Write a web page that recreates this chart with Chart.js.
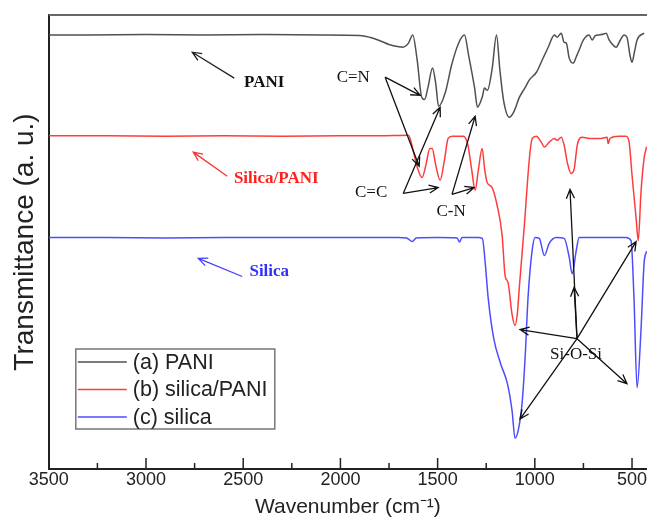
<!DOCTYPE html>
<html>
<head>
<meta charset="utf-8">
<script src="https://cdn.jsdelivr.net/npm/chart.js@4.4.0/dist/chart.umd.min.js"></script>
<style>
  html, body { margin: 0; padding: 0; background: #fff; }
</style>
</head>
<body>
<canvas id="ftir" width="647" height="518"></canvas>
<script>
// series names
const seriesNames = ['(a) PANI', '(b) silica/PANI', '(c) silica'];

// wavenumber ticks (cm-1)
const xTicks = [3500, 3000, 2500, 2000, 1500, 1000, 500];

// (a) PANI, transmittance in arbitrary units
const paniWave = [3500, 3300, 3000, 2700, 2400, 2100, 1900, 1850, 1800, 1750, 1700, 1679, 1650, 1628, 1605,
  1582, 1567, 1550, 1526, 1510, 1495, 1460, 1428, 1390, 1362, 1340, 1310, 1295, 1270, 1259, 1244, 1220,
  1197, 1180, 1160, 1131, 1110, 1079, 1050, 1028, 990, 962, 930, 900, 885, 864, 850, 838, 823, 803, 785,
  772, 750, 721, 705, 690, 669, 645, 633, 618, 600, 582, 560, 541, 526, 510, 500, 487, 474, 438];
const paniT = [95.6, 95.6, 95.7, 95.6, 95.7, 95.6, 95.5, 95.1, 94.4, 93.5, 93.0, 92.9, 93.8, 95.6, 90.0,
  81.9, 81.4, 84.0, 88.3, 85.0, 79.9, 83.0, 89.0, 94.0, 95.6, 91.0, 84.0, 79.7, 82.0, 83.9, 83.4, 88.0,
  95.6, 88.0, 81.0, 77.5, 78.5, 81.9, 84.0, 85.7, 87.5, 90.1, 93.0, 95.6, 95.1, 96.0, 94.0, 93.8, 90.5, 89.4, 91.0,
  92.3, 94.5, 95.6, 94.5, 95.4, 95.6, 95.8, 96.0, 94.5, 93.5, 92.9, 94.5, 95.6, 95.1, 91.0, 89.6, 92.0, 94.5, 96.0];

// (b) silica/PANI
const silicaPaniWave = [3500, 3200, 2900, 2600, 2300, 2000, 1800, 1650, 1625, 1605, 1580, 1560, 1540, 1528,
  1510, 1487, 1465, 1446, 1425, 1368, 1345, 1325, 1307, 1290, 1271, 1258, 1245, 1220, 1194, 1168, 1153,
  1138, 1117, 1102, 1090, 1079, 1054, 1028, 1013, 992, 967, 951, 926, 900, 885, 864, 849, 833, 813, 797,
  782, 756, 721, 659, 628, 623, 613, 567, 531, 515, 500, 479, 468, 454, 438, 425];
const silicaPaniT = [73.4, 73.4, 73.3, 73.4, 73.3, 73.4, 73.4, 73.5, 70.0, 66.5, 64.2, 67.0, 70.6, 70.6,
  67.0, 63.6, 68.0, 72.8, 73.3, 73.3, 71.5, 66.0, 61.4, 66.0, 70.6, 66.0, 63.1, 62.0, 58.1, 51.4, 42.6,
  41.1, 34.0, 31.6, 34.2, 40.4, 53.6, 68.4, 72.8, 73.3, 72.0, 70.9, 72.0, 72.8, 72.4, 73.1, 71.3, 67.5, 65.1, 66.2,
  71.3, 73.1, 72.8, 72.8, 73.1, 71.7, 72.8, 73.3, 73.3, 72.0, 64.7, 55.2, 50.3, 60.9, 68.4, 71.0];

// (c) silica
const silicaWave = [3500, 3200, 2900, 2600, 2300, 2000, 1700, 1660, 1630, 1610, 1500, 1400, 1387, 1375,
  1290, 1270, 1255, 1240, 1212, 1176, 1141, 1117, 1102, 1086, 1066, 1050, 1035, 1014, 999, 977, 951, 926,
  890, 849, 823, 808, 787, 772, 531, 505, 490, 474, 454, 438, 425];
const silicaT = [51.0, 51.0, 50.9, 51.0, 51.0, 51.0, 51.0, 50.9, 50.1, 50.9, 51.0, 50.9, 50.0, 51.0,
  51.0, 50.8, 45.3, 37.7, 28.9, 23.2, 18.8, 12.8, 6.8, 8.4, 14.3, 24.5, 37.7, 48.1, 51.0, 50.8, 47.0, 49.7,
  51.0, 50.8, 46.6, 43.0, 48.1, 51.0, 51.0, 50.3, 37.7, 17.9, 30.5, 45.3, 48.0];

const seriesColors = ['#505050', '#ff3c3c', '#4d4dff'];

// annotation texts and arrows, placed in data units (wavenumber, transmittance)
const noteTexts = [
  { text: 'PANI', at: [2392, 85.2], color: '#111', bold: true },
  { text: 'Silica/PANI', at: [2330, 64.0], color: '#ff2020', bold: true },
  { text: 'Silica', at: [2366, 43.5], color: '#3030ff', bold: true },
  { text: 'C=N', at: [1934, 86.3], color: '#111' },
  { text: 'C=C', at: [1842, 60.9], color: '#111' },
  { text: 'C-N', at: [1431, 56.7], color: '#111' },
  { text: 'Si-O-Si', at: [788, 25.2], color: '#111' }
];
const noteArrows = [
  { from: [2546, 86.1], to: [2762, 91.8], color: '#222' },
  { from: [2582, 64.5], to: [2757, 69.8], color: '#ff3030' },
  { from: [2505, 42.4], to: [2731, 46.4], color: '#4040ff' },
  { from: [1770, 86.3], to: [1590, 82.3], color: '#111' },
  { from: [1770, 86.3], to: [1595, 66.7], color: '#111' },
  { from: [1677, 60.7], to: [1497, 62.0], color: '#111' },
  { from: [1677, 60.7], to: [1487, 79.7], color: '#111' },
  { from: [1426, 60.5], to: [1312, 62.0], color: '#111' },
  { from: [1426, 60.5], to: [1307, 77.7], color: '#111' },
  { from: [783, 28.7], to: [819, 61.6], color: '#111' },
  { from: [783, 28.7], to: [798, 40.0], color: '#111' },
  { from: [783, 28.7], to: [1076, 30.7], color: '#111' },
  { from: [783, 28.7], to: [1076, 11.0], color: '#111' },
  { from: [783, 28.7], to: [479, 50.1], color: '#111' },
  { from: [783, 28.7], to: [526, 18.8], color: '#111' }
];

function pairUp(ws, ts) {
  return ws.map((w, i) => ({ x: w, y: ts[i] }));
}

function drawArrow(ctx, x1, y1, x2, y2, color) {
  const a = Math.atan2(y2 - y1, x2 - x1);
  const h = 10, s = 0.42;
  ctx.strokeStyle = color;
  ctx.lineWidth = 1.3;
  ctx.beginPath();
  ctx.moveTo(x1, y1);
  ctx.lineTo(x2, y2);
  ctx.moveTo(x2 - h * Math.cos(a - s), y2 - h * Math.sin(a - s));
  ctx.lineTo(x2, y2);
  ctx.lineTo(x2 - h * Math.cos(a + s), y2 - h * Math.sin(a + s));
  ctx.stroke();
}

const decor = {
  id: 'decor',
  afterDraw(chart) {
    const ctx = chart.ctx;
    const area = chart.chartArea;
    const xs = chart.scales.x, ys = chart.scales.y;
    ctx.save();

    // top frame line
    ctx.strokeStyle = '#666';
    ctx.lineWidth = 2;
    ctx.beginPath();
    ctx.moveTo(area.left, area.top);
    ctx.lineTo(area.right, area.top);
    ctx.stroke();

    // inward ticks on the wavenumber axis
    ctx.strokeStyle = '#222';
    ctx.lineWidth = 1.5;
    for (let w = 500; w <= 3500; w += 250) {
      const px = xs.getPixelForValue(w);
      const len = w % 500 === 0 ? 11 : 6;
      ctx.beginPath();
      ctx.moveTo(px, area.bottom);
      ctx.lineTo(px, area.bottom - len);
      ctx.stroke();
    }

    // arrows and notes
    noteArrows.forEach(a => {
      drawArrow(ctx, xs.getPixelForValue(a.from[0]), ys.getPixelForValue(a.from[1]),
        xs.getPixelForValue(a.to[0]), ys.getPixelForValue(a.to[1]), a.color);
    });
    ctx.textAlign = 'center';
    ctx.textBaseline = 'middle';
    noteTexts.forEach(n => {
      ctx.font = (n.bold ? 'bold ' : '') + '17px "Liberation Serif", "Times New Roman", serif';
      ctx.fillStyle = n.color;
      ctx.fillText(n.text, xs.getPixelForValue(n.at[0]), ys.getPixelForValue(n.at[1]));
    });

    // legend box
    const bx = area.left + 27, by = 349, bw = 199, bh = 80;
    ctx.strokeStyle = '#777';
    ctx.lineWidth = 1.5;
    ctx.strokeRect(bx, by, bw, bh);
    ctx.textAlign = 'left';
    ctx.font = '21.5px "Liberation Sans", Arial, sans-serif';
    chart.data.datasets.forEach((ds, i) => {
      const ly = by + 13 + i * 27.5;
      ctx.strokeStyle = ds.borderColor;
      ctx.lineWidth = 1.5;
      ctx.beginPath();
      ctx.moveTo(bx + 2, ly);
      ctx.lineTo(bx + 51, ly);
      ctx.stroke();
      ctx.fillStyle = '#222';
      ctx.fillText(ds.label, bx + 57, ly + 1);
    });
    ctx.restore();
  }
};

new Chart(document.getElementById('ftir'), {
  type: 'line',
  data: {
    datasets: [
      { label: seriesNames[0], data: pairUp(paniWave, paniT), borderColor: seriesColors[0] },
      { label: seriesNames[1], data: pairUp(silicaPaniWave, silicaPaniT), borderColor: seriesColors[1] },
      { label: seriesNames[2], data: pairUp(silicaWave, silicaT), borderColor: seriesColors[2] }
    ]
  },
  options: {
    responsive: false,
    animation: false,
    devicePixelRatio: 1,
    layout: { padding: { left: 8, top: 15, right: 0, bottom: 0 } },
    elements: {
      point: { radius: 0 },
      line: { borderWidth: 1.5, cubicInterpolationMode: 'monotone', fill: false }
    },
    plugins: {
      legend: { display: false },
      tooltip: { enabled: false }
    },
    scales: {
      x: {
        type: 'linear',
        reverse: true,
        min: 423,
        max: 3500,
        afterBuildTicks: (scale) => { scale.ticks = xTicks.map(v => ({ value: v })); },
        afterFit: (scale) => { scale.paddingRight = 0; },
        grid: { display: false, drawTicks: false },
        border: { display: true, color: '#222', width: 2 },
        ticks: {
          color: '#222',
          padding: 2,
          maxRotation: 0,
          callback: (v) => String(v),
          font: { family: 'Arial', size: 18, lineHeight: 1.0 }
        },
        title: {
          display: true,
          text: 'Wavenumber (cm\u207B\u00B9)',
          color: '#222',
          padding: { top: 6, bottom: 0 },
          font: { family: 'Arial', size: 21, lineHeight: 1.0 }
        }
      },
      y: {
        min: 0,
        max: 100,
        grid: { display: false, drawTicks: false },
        border: { display: true, color: '#222', width: 2 },
        ticks: { display: false },
        title: {
          display: true,
          text: 'Transmittance (a. u.)',
          color: '#222',
          padding: { top: 2, bottom: 8 },
          font: { family: 'Arial', size: 28, lineHeight: 1.1 }
        }
      }
    }
  },
  plugins: [decor]
});
</script>
</body>
</html>
